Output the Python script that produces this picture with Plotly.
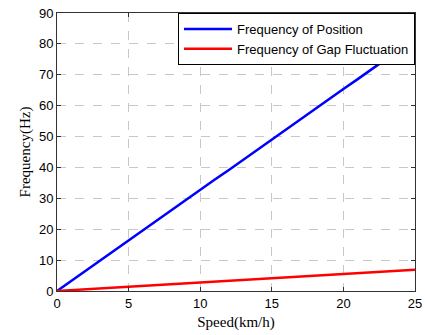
import plotly.graph_objects as go

speed = list(range(0, 26))
freq_position = [0, 3.3, 6.5, 9.8, 13.1, 16.4, 19.6, 22.9, 26.2, 29.4, 32.7,
                 36.0, 39.2, 42.5, 45.8, 49.0, 52.3, 55.6, 58.8, 62.1, 65.4,
                 68.6, 71.9, 75.2, 78.4, 81.7]
freq_gap = [0, 0.28, 0.55, 0.83, 1.1, 1.38, 1.66, 1.93, 2.2, 2.48, 2.76,
            3.03, 3.3, 3.58, 3.86, 4.13, 4.4, 4.68, 4.96, 5.23, 5.5,
            5.78, 6.06, 6.33, 6.6, 6.9]
x_ticks = [0, 5, 10, 15, 20, 25]
y_ticks = [0, 10, 20, 30, 40, 50, 60, 70, 80, 90]

fig = go.Figure()
fig.add_trace(go.Scatter(x=speed, y=freq_position, mode="lines",
                         name="Frequency of Position",
                         line=dict(color="#0000ff", width=2.5)))
fig.add_trace(go.Scatter(x=speed, y=freq_gap, mode="lines",
                         name="Frequency of Gap Fluctuation",
                         line=dict(color="#ff0000", width=2.5)))

axis_common = dict(
    showgrid=True, gridcolor="#c8c8c8", griddash="dash", gridwidth=1,
    showline=True, linecolor="#333333", linewidth=1, mirror="ticks",
    ticks="inside", ticklen=4, tickcolor="#333333",
    zeroline=False, automargin=False,
    tickfont=dict(family="Liberation Sans, Arial", size=13, color="#000000"),
)

fig.update_layout(
    width=425, height=335,
    margin=dict(l=57, r=10, t=13, b=44, autoexpand=False),
    paper_bgcolor="white", plot_bgcolor="white",
    xaxis=dict(range=[0, 25], tickvals=x_ticks,
               title=dict(text="Speed(km/h)", standoff=6,
                          font=dict(family="Liberation Serif, Times New Roman", size=15, color="#000")),
               **axis_common),
    yaxis=dict(range=[0, 90], tickvals=y_ticks,
               title=dict(text="Frequency(Hz)", standoff=4,
                          font=dict(family="Liberation Serif, Times New Roman", size=15, color="#000")),
               **axis_common),
    legend=dict(x=1, y=1, xanchor="right", yanchor="top",
                bgcolor="white", bordercolor="#000000", borderwidth=1,
                font=dict(family="Liberation Sans, Arial", size=13, color="#000"),
                tracegroupgap=0, itemwidth=48),
    showlegend=True,
)

fig.write_html("out.html")
